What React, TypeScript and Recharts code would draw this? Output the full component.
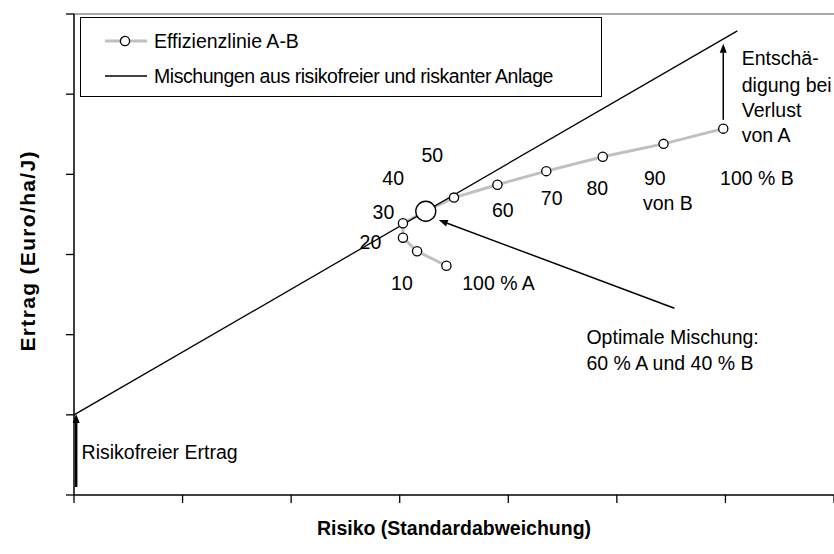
import React from "react";
import {
  ComposedChart,
  Line,
  Scatter,
  XAxis,
  YAxis,
  ReferenceLine,
  Legend,
  Label
} from "recharts";

// Anteil B in der Mischung (%)
const shareB = [0, 10, 20, 30, 40, 50, 60, 70, 80, 90, 100];
// Risiko (x) und Ertrag (y) der Effizienzlinie
const effRisk = [3.43, 3.16, 3.03, 3.03, 3.24, 3.5, 3.9, 4.35, 4.87, 5.43, 5.98];
const effReturn = [2.86, 3.04, 3.21, 3.39, 3.54, 3.71, 3.87, 4.04, 4.22, 4.38, 4.57];

// Gerade: risikofreier Ertrag -> durch das Optimum
const mixRisk = [0, 6.11];
const mixReturn = [1, 5.79];

const optimumIndex = 4;

const xTicks = [0, 1, 2, 3, 4, 5, 6, 7];
const yTicks = [0, 1, 2, 3, 4, 5, 6];

const legendLabels = ["Effizienzlinie A-B", "Mischungen aus risikofreier und riskanter Anlage"];

// Pfeile [von, nach] in Datenkoordinaten
const arrows = [
  { from: { x: 5.98, y: 4.68 }, to: { x: 5.98, y: 5.63 }, width: 1.5 },
  { from: { x: 5.53, y: 2.33 }, to: { x: 3.36, y: 3.43 }, width: 1.5 },
  { from: { x: 0.02, y: 0.1 }, to: { x: 0.02, y: 1.01 }, width: 2.5 }
];

// Beschriftungen (zentriert)
const centerLabels = [
  { text: "10", x: 3.02, y: 2.64 },
  { text: "100 % A", x: 3.91, y: 2.64 },
  { text: "20", x: 2.73, y: 3.16 },
  { text: "30", x: 2.85, y: 3.53 },
  { text: "40", x: 2.94, y: 3.95 },
  { text: "50", x: 3.3, y: 4.24 },
  { text: "60", x: 3.95, y: 3.55 },
  { text: "70", x: 4.4, y: 3.7 },
  { text: "80", x: 4.82, y: 3.83 },
  { text: "90", x: 5.35, y: 3.95 },
  { text: "von B", x: 5.47, y: 3.64 },
  { text: "100 % B", x: 6.29, y: 3.95 }
];

// Beschriftungen (linksbündig)
const leftLabels = [
  { text: "Entschä-", x: 6.15, y: 5.45 },
  { text: "digung bei", x: 6.15, y: 5.11 },
  { text: "Verlust", x: 6.15, y: 4.8 },
  { text: "von A", x: 6.15, y: 4.49 },
  { text: "Optimale Mischung:", x: 4.72, y: 1.97 },
  { text: "60 % A und 40 % B", x: 4.72, y: 1.65 },
  { text: "Risikofreier Ertrag", x: 0.07, y: 0.54 }
];

const efficiencyData = shareB.map((b, i) => ({ b, x: effRisk[i], y: effReturn[i] }));
const mixData = mixRisk.map((x, i) => ({ x, y: mixReturn[i] }));
const optimumData = [efficiencyData[optimumIndex]];

const FONT = "'Liberation Sans', Arial, sans-serif";
const FS = 19.5;

const NoTickLabel = () => <g />;

const arrowShape = (w: number) => (props: any) => {
  const { x1, y1, x2, y2 } = props;
  const dx = x2 - x1;
  const dy = y2 - y1;
  const len = Math.sqrt(dx * dx + dy * dy) || 1;
  const ux = dx / len;
  const uy = dy / len;
  const head = 9;
  const half = 3.5;
  const bx = x2 - ux * head;
  const by = y2 - uy * head;
  const pts = `${x2},${y2} ${bx - uy * half},${by + ux * half} ${bx + uy * half},${by - ux * half}`;
  return (
    <g>
      <line x1={x1} y1={y1} x2={bx} y2={by} stroke="#000" strokeWidth={w} />
      <polygon points={pts} fill="#000" />
    </g>
  );
};

const SmallDot = (props: any) => (
  <circle cx={props.cx} cy={props.cy} r={4.6} fill="#fff" stroke="#000" strokeWidth={1.3} />
);

const BigDot = (props: any) => (
  <circle cx={props.cx} cy={props.cy} r={10} fill="#fff" stroke="#000" strokeWidth={1.4} />
);

const textShape = (anchor: "middle" | "start") => (props: any) => (
  <text
    x={props.cx}
    y={props.cy}
    textAnchor={anchor}
    dominantBaseline="central"
    fontFamily={FONT}
    fontSize={FS}
    fill="#000"
  >
    {props.payload.text}
  </text>
);

const LegendBox = () => (
  <div
    style={{
      width: 522,
      height: 80,
      border: "1.5px solid #000",
      boxSizing: "border-box",
      background: "#fff",
      fontFamily: FONT,
      fontSize: FS,
      position: "relative"
    }}
  >
    {legendLabels.map((label, i) => (
      <div
        key={label}
        style={{
          position: "absolute",
          left: 23,
          top: i === 0 ? 10 : 45,
          height: 26,
          display: "flex",
          alignItems: "center"
        }}
      >
        <svg width={44} height={14} style={{ marginRight: 6 }}>
          {i === 0 ? (
            <>
              <line x1={1} y1={7} x2={43} y2={7} stroke="#c0c0c0" strokeWidth={3} />
              <circle cx={21} cy={7} r={4.6} fill="#fff" stroke="#000" strokeWidth={1.3} />
            </>
          ) : (
            <line x1={1} y1={7} x2={43} y2={7} stroke="#000" strokeWidth={1.3} />
          )}
        </svg>
        <span style={{ whiteSpace: "nowrap", letterSpacing: i === 1 ? -0.45 : 0 }}>{label}</span>
      </div>
    ))}
  </div>
);

const YTitle = (props: any) => {
  const vb = props.viewBox;
  const cx = vb.x + vb.width - 47;
  const cy = vb.y + vb.height / 2 - 3;
  return (
    <text
      x={cx}
      y={cy}
      transform={`rotate(-90 ${cx} ${cy})`}
      textAnchor="middle"
      dominantBaseline="central"
      fontFamily={FONT}
      fontSize={21}
      fontWeight="bold"
      textLength={200}
      lengthAdjust="spacing"
      fill="#000"
    >
      Ertrag (Euro/ha/J)
    </text>
  );
};

const XTitle = (props: any) => {
  const vb = props.viewBox;
  return (
    <text
      x={vb.x + vb.width / 2}
      y={vb.y + 33}
      textAnchor="middle"
      dominantBaseline="central"
      fontFamily={FONT}
      fontSize={FS}
      fontWeight="bold"
      fill="#000"
    >
      Risiko (Standardabweichung)
    </text>
  );
};

export default function App() {
  return (
    <div style={{ position: "absolute", left: 0, top: 0, background: "#fff", fontFamily: FONT }}>
      <ComposedChart width={834} height={554} margin={{ top: 14, right: 0, bottom: 0, left: 0 }}>
        <XAxis
          type="number"
          dataKey="x"
          domain={[0, 7]}
          ticks={xTicks}
          tick={NoTickLabel}
          tickSize={8}
          height={59}
          axisLine={{ stroke: "#000", strokeWidth: 1.5 }}
          tickLine={{ stroke: "#000", strokeWidth: 1.3 }}
        >
          <Label content={XTitle} />
        </XAxis>
        <YAxis
          type="number"
          dataKey="y"
          domain={[0, 6]}
          ticks={yTicks}
          tick={NoTickLabel}
          tickSize={8}
          width={74}
          axisLine={{ stroke: "#000", strokeWidth: 1.5 }}
          tickLine={{ stroke: "#000", strokeWidth: 1.3 }}
        >
          <Label content={YTitle} />
        </YAxis>
        <ReferenceLine y={6} stroke="#8c8c8c" strokeWidth={1.5} />
        <Legend
          layout="vertical"
          align="center"
          verticalAlign="middle"
          wrapperStyle={{ left: 80, top: 17, width: 522, height: 80 }}
          content={LegendBox}
        />
        <Line
          data={efficiencyData}
          dataKey="y"
          type="linear"
          stroke="#c0c0c0"
          strokeWidth={3}
          dot={false}
          activeDot={false}
          isAnimationActive={false}
        />
        <Line
          data={mixData}
          dataKey="y"
          type="linear"
          stroke="#000"
          strokeWidth={1.3}
          dot={false}
          activeDot={false}
          isAnimationActive={false}
        />
        <Scatter data={efficiencyData} dataKey="y" shape={SmallDot} isAnimationActive={false} />
        <Scatter data={optimumData} dataKey="y" shape={BigDot} isAnimationActive={false} />
        {arrows.map((a, i) => (
          <ReferenceLine key={i} segment={[a.from, a.to]} shape={arrowShape(a.width)} />
        ))}
        <Scatter data={centerLabels} dataKey="y" shape={textShape("middle")} isAnimationActive={false} />
        <Scatter data={leftLabels} dataKey="y" shape={textShape("start")} isAnimationActive={false} />
      </ComposedChart>
    </div>
  );
}
